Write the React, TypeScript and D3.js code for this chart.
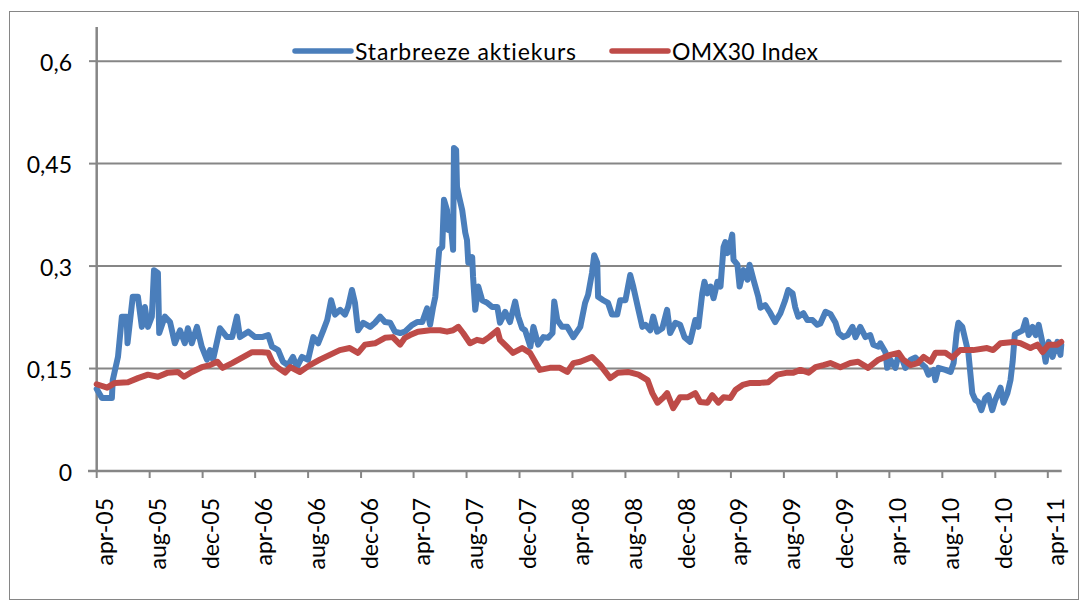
import * as d3 from "d3";

// Starbreeze share price (SEK) and OMX30 index (rescaled)
const starbreeze: [string, number][] = [
  ["2005-04-01", 0.12], ["2005-04-13", 0.107], ["2005-05-06", 0.107], ["2005-05-08", 0.133],
  ["2005-05-20", 0.167], ["2005-05-29", 0.226], ["2005-06-09", 0.226], ["2005-06-11", 0.187],
  ["2005-06-23", 0.255], ["2005-07-05", 0.255], ["2005-07-14", 0.211], ["2005-07-21", 0.24],
  ["2005-07-28", 0.211], ["2005-08-06", 0.226], ["2005-08-11", 0.294], ["2005-08-20", 0.29],
  ["2005-08-23", 0.202], ["2005-09-05", 0.226], ["2005-09-17", 0.218], ["2005-09-28", 0.187],
  ["2005-10-10", 0.206], ["2005-10-21", 0.187], ["2005-10-28", 0.209], ["2005-11-06", 0.187],
  ["2005-11-18", 0.211], ["2005-11-29", 0.182], ["2005-12-11", 0.163], ["2005-12-18", 0.177],
  ["2005-12-25", 0.163], ["2006-01-10", 0.209], ["2006-01-26", 0.196], ["2006-02-07", 0.196],
  ["2006-02-18", 0.226], ["2006-02-25", 0.196], ["2006-03-16", 0.204], ["2006-04-01", 0.196],
  ["2006-04-17", 0.196], ["2006-05-01", 0.199], ["2006-05-10", 0.182], ["2006-05-24", 0.177],
  ["2006-06-04", 0.16], ["2006-06-16", 0.155], ["2006-06-27", 0.167], ["2006-07-06", 0.152],
  ["2006-07-18", 0.167], ["2006-08-01", 0.163], ["2006-08-13", 0.196], ["2006-08-24", 0.187],
  ["2006-09-05", 0.206], ["2006-09-14", 0.221], ["2006-09-23", 0.25], ["2006-10-02", 0.229],
  ["2006-10-14", 0.236], ["2006-10-25", 0.229], ["2006-11-01", 0.24], ["2006-11-10", 0.265],
  ["2006-11-17", 0.246], ["2006-11-24", 0.206], ["2006-12-06", 0.217], ["2006-12-22", 0.211],
  ["2007-01-02", 0.217], ["2007-01-14", 0.226], ["2007-01-25", 0.218], ["2007-02-06", 0.217],
  ["2007-02-17", 0.204], ["2007-03-01", 0.202], ["2007-03-12", 0.204], ["2007-03-29", 0.214],
  ["2007-04-09", 0.218], ["2007-04-21", 0.218], ["2007-05-02", 0.238], ["2007-05-09", 0.214],
  ["2007-05-16", 0.24], ["2007-05-21", 0.255], ["2007-05-30", 0.324], ["2007-06-06", 0.328],
  ["2007-06-10", 0.397], ["2007-06-17", 0.382], ["2007-06-20", 0.353], ["2007-06-24", 0.372],
  ["2007-07-01", 0.324], ["2007-07-03", 0.473], ["2007-07-08", 0.47], ["2007-07-10", 0.416],
  ["2007-07-15", 0.401], ["2007-07-22", 0.382], ["2007-07-29", 0.349], ["2007-08-02", 0.338],
  ["2007-08-05", 0.305], ["2007-08-14", 0.313], ["2007-08-16", 0.284], ["2007-08-21", 0.236],
  ["2007-08-28", 0.27], ["2007-09-06", 0.25], ["2007-09-18", 0.246], ["2007-09-29", 0.24],
  ["2007-10-11", 0.24], ["2007-10-17", 0.217], ["2007-10-29", 0.233], ["2007-11-09", 0.218],
  ["2007-11-21", 0.248], ["2007-11-28", 0.226], ["2007-12-07", 0.209], ["2007-12-14", 0.206],
  ["2007-12-26", 0.182], ["2008-01-02", 0.211], ["2008-01-13", 0.185], ["2008-01-25", 0.196],
  ["2008-02-05", 0.195], ["2008-02-15", 0.202], ["2008-02-19", 0.248], ["2008-02-26", 0.221],
  ["2008-03-08", 0.211], ["2008-03-20", 0.211], ["2008-04-03", 0.196], ["2008-04-19", 0.211],
  ["2008-04-30", 0.246], ["2008-05-07", 0.258], ["2008-05-16", 0.29], ["2008-05-21", 0.316],
  ["2008-05-28", 0.305], ["2008-05-30", 0.255], ["2008-06-11", 0.25], ["2008-06-22", 0.246],
  ["2008-07-01", 0.229], ["2008-07-13", 0.229], ["2008-07-20", 0.25], ["2008-08-01", 0.25],
  ["2008-08-12", 0.287], ["2008-08-19", 0.27], ["2008-08-31", 0.236], ["2008-09-09", 0.211],
  ["2008-09-16", 0.214], ["2008-09-27", 0.206], ["2008-10-04", 0.226], ["2008-10-13", 0.204],
  ["2008-10-25", 0.209], ["2008-11-05", 0.236], ["2008-11-12", 0.202], ["2008-11-24", 0.217],
  ["2008-12-05", 0.214], ["2008-12-15", 0.196], ["2008-12-28", 0.189], ["2009-01-09", 0.221],
  ["2009-01-16", 0.211], ["2009-01-25", 0.26], ["2009-01-30", 0.277], ["2009-02-06", 0.26],
  ["2009-02-13", 0.27], ["2009-02-20", 0.253], ["2009-03-01", 0.277], ["2009-03-08", 0.27],
  ["2009-03-15", 0.328], ["2009-03-19", 0.335], ["2009-03-24", 0.319], ["2009-03-31", 0.334],
  ["2009-04-04", 0.346], ["2009-04-07", 0.309], ["2009-04-16", 0.302], ["2009-04-21", 0.27],
  ["2009-04-30", 0.294], ["2009-05-09", 0.28], ["2009-05-14", 0.302], ["2009-05-23", 0.28],
  ["2009-06-03", 0.255], ["2009-06-08", 0.239], ["2009-06-19", 0.243], ["2009-07-01", 0.231],
  ["2009-07-12", 0.218], ["2009-07-24", 0.231], ["2009-08-04", 0.25], ["2009-08-11", 0.265],
  ["2009-08-21", 0.26], ["2009-08-27", 0.24], ["2009-09-03", 0.226], ["2009-09-15", 0.231],
  ["2009-09-24", 0.221], ["2009-10-06", 0.221], ["2009-10-17", 0.214], ["2009-10-24", 0.216],
  ["2009-11-05", 0.233], ["2009-11-16", 0.23], ["2009-11-28", 0.217], ["2009-12-05", 0.202],
  ["2009-12-16", 0.196], ["2009-12-26", 0.199], ["2010-01-06", 0.211], ["2010-01-13", 0.196],
  ["2010-01-24", 0.211], ["2010-02-05", 0.196], ["2010-02-16", 0.199], ["2010-02-23", 0.185],
  ["2010-03-07", 0.182], ["2010-03-11", 0.187], ["2010-03-23", 0.174], ["2010-03-27", 0.151],
  ["2010-04-03", 0.163], ["2010-04-15", 0.151], ["2010-04-22", 0.17], ["2010-05-01", 0.163],
  ["2010-05-08", 0.151], ["2010-05-20", 0.163], ["2010-05-31", 0.166], ["2010-06-12", 0.158],
  ["2010-06-23", 0.152], ["2010-06-30", 0.141], ["2010-07-12", 0.148], ["2010-07-16", 0.133],
  ["2010-07-23", 0.151], ["2010-08-08", 0.148], ["2010-08-20", 0.145], ["2010-08-27", 0.158],
  ["2010-09-03", 0.202], ["2010-09-07", 0.217], ["2010-09-16", 0.211], ["2010-09-23", 0.192],
  ["2010-09-30", 0.173], ["2010-10-09", 0.114], ["2010-10-16", 0.104], ["2010-10-23", 0.101],
  ["2010-10-30", 0.089], ["2010-11-08", 0.107], ["2010-11-15", 0.111], ["2010-11-24", 0.089],
  ["2010-12-01", 0.104], ["2010-12-13", 0.122], ["2010-12-20", 0.1], ["2010-12-29", 0.114],
  ["2011-01-05", 0.133], ["2011-01-10", 0.16], ["2011-01-15", 0.2], ["2011-02-02", 0.206],
  ["2011-02-09", 0.221], ["2011-02-16", 0.199], ["2011-02-25", 0.211], ["2011-03-04", 0.199],
  ["2011-03-11", 0.214], ["2011-03-20", 0.187], ["2011-03-27", 0.16], ["2011-04-03", 0.189],
  ["2011-04-12", 0.167], ["2011-04-23", 0.189], ["2011-04-30", 0.17], ["2011-05-02", 0.185],
];

const omx30: [string, number][] = [
  ["2005-04-01", 0.127], ["2005-04-25", 0.122], ["2005-05-13", 0.129], ["2005-06-12", 0.13],
  ["2005-07-05", 0.136], ["2005-07-28", 0.141], ["2005-08-20", 0.138], ["2005-09-12", 0.144],
  ["2005-10-05", 0.145], ["2005-10-19", 0.138], ["2005-11-06", 0.145], ["2005-11-29", 0.152],
  ["2005-12-18", 0.155], ["2006-01-04", 0.16], ["2006-01-16", 0.151], ["2006-02-07", 0.158],
  ["2006-03-02", 0.166], ["2006-03-25", 0.174], ["2006-04-17", 0.174], ["2006-05-01", 0.173],
  ["2006-05-12", 0.158], ["2006-05-24", 0.151], ["2006-06-09", 0.144], ["2006-06-21", 0.152],
  ["2006-07-13", 0.145], ["2006-08-05", 0.155], ["2006-08-28", 0.163], ["2006-09-20", 0.17],
  ["2006-10-13", 0.177], ["2006-11-05", 0.18], ["2006-11-24", 0.173], ["2006-12-10", 0.185],
  ["2007-01-02", 0.187], ["2007-01-25", 0.195], ["2007-02-12", 0.196], ["2007-03-01", 0.185],
  ["2007-03-12", 0.195], ["2007-03-24", 0.199], ["2007-04-11", 0.204], ["2007-05-09", 0.206],
  ["2007-06-01", 0.206], ["2007-06-17", 0.204], ["2007-07-01", 0.206], ["2007-07-13", 0.211],
  ["2007-07-24", 0.202], ["2007-08-09", 0.187], ["2007-08-25", 0.192], ["2007-09-08", 0.19],
  ["2007-09-22", 0.196], ["2007-10-11", 0.206], ["2007-10-17", 0.192], ["2007-11-16", 0.173],
  ["2007-12-07", 0.18], ["2007-12-25", 0.173], ["2008-01-17", 0.148], ["2008-02-09", 0.151],
  ["2008-03-03", 0.151], ["2008-03-20", 0.145], ["2008-04-03", 0.158], ["2008-04-19", 0.16],
  ["2008-05-16", 0.167], ["2008-06-04", 0.155], ["2008-06-27", 0.136], ["2008-07-15", 0.144],
  ["2008-08-07", 0.145], ["2008-08-31", 0.141], ["2008-09-21", 0.133], ["2008-10-02", 0.114],
  ["2008-10-14", 0.1], ["2008-10-28", 0.108], ["2008-11-05", 0.114], ["2008-11-19", 0.092],
  ["2008-12-05", 0.108], ["2008-12-23", 0.108], ["2009-01-09", 0.114], ["2009-01-20", 0.101],
  ["2009-02-06", 0.1], ["2009-02-17", 0.111], ["2009-03-03", 0.1], ["2009-03-15", 0.108],
  ["2009-03-31", 0.107], ["2009-04-12", 0.119], ["2009-04-28", 0.126], ["2009-05-16", 0.129],
  ["2009-06-08", 0.129], ["2009-06-26", 0.13], ["2009-07-17", 0.141], ["2009-08-09", 0.144],
  ["2009-08-23", 0.144], ["2009-09-08", 0.148], ["2009-09-27", 0.144], ["2009-10-13", 0.152],
  ["2009-10-31", 0.155], ["2009-11-16", 0.158], ["2009-12-09", 0.152], ["2010-01-01", 0.158],
  ["2010-01-19", 0.16], ["2010-02-11", 0.151], ["2010-03-07", 0.163], ["2010-04-03", 0.17],
  ["2010-04-22", 0.173], ["2010-05-03", 0.163], ["2010-05-20", 0.155], ["2010-06-05", 0.158],
  ["2010-06-19", 0.167], ["2010-07-05", 0.16], ["2010-07-16", 0.173], ["2010-08-08", 0.173],
  ["2010-08-24", 0.166], ["2010-09-11", 0.177], ["2010-10-11", 0.177], ["2010-11-12", 0.18],
  ["2010-11-26", 0.177], ["2010-12-13", 0.187], ["2011-01-12", 0.189], ["2011-01-28", 0.187],
  ["2011-02-20", 0.18], ["2011-03-08", 0.185], ["2011-03-20", 0.174], ["2011-04-03", 0.185],
  ["2011-04-23", 0.185], ["2011-05-02", 0.189],
];

const seriesNames = ["Starbreeze aktiekurs", "OMX30 Index"];
const seriesColors = ["#4a7ebb", "#be4b48"];

const xTickLabels = [
  "apr-05", "aug-05", "dec-05", "apr-06", "aug-06", "dec-06", "apr-07", "aug-07", "dec-07",
  "apr-08", "aug-08", "dec-08", "apr-09", "aug-09", "dec-09", "apr-10", "aug-10", "dec-10", "apr-11",
];
const yTicks = [0, 0.15, 0.3, 0.45, 0.6];

const W = 1086;
const H = 610;
const left = 96.7;
const right = 1061.7;
const top = 27;
const bottom = 471;
const axisColor = "#868686";
const font = "Lato, 'Open Sans', sans-serif";
const fs = 23;

const months: Record<string, number> = {
  jan: 0, feb: 1, mar: 2, apr: 3, maj: 4, jun: 5, jul: 6, aug: 7, sep: 8, okt: 9, nov: 10, dec: 11,
};
const parse = d3.timeParse("%Y-%m-%d");
const tickDate = (s: string) => {
  const [m, yy] = s.split("-");
  return new Date(2000 + +yy, months[m], 1);
};

export default function App() {
  const x = d3.scaleTime().domain([new Date(2005, 3, 1), new Date(2011, 4, 3)]).range([left, right]);
  const y = d3.scaleLinear().domain([0, 0.65]).range([bottom, top]);

  const line = d3
    .line<[string, number]>()
    .x((d) => x(parse(d[0]) as Date))
    .y((d) => y(d[1]));

  const series = [starbreeze, omx30];

  // legend layout
  const legend = [
    { x0: 295, x1: 351, tx: 355, tl: 221 },
    { x0: 612, x1: 668, tx: 672, tl: 146 },
  ];

  return (
    <svg
      width={W}
      height={H}
      style={{
        position: "absolute",
        left: 0,
        top: 0,
        display: "block",
        background: "#fff",
        fontVariantLigatures: "none",
        fontFeatureSettings: '"liga" 0, "clig" 0',
      }}
      fontFamily={font}
    >
      <rect x={9.5} y={11.5} width={1069} height={588} fill="#fff" stroke={axisColor} strokeWidth={1} />

      {/* gridlines */}
      {yTicks.filter((t) => t > 0).map((t) => (
        <line key={t} x1={left} x2={right} y1={y(t)} y2={y(t)} stroke={axisColor} strokeWidth={2} />
      ))}

      {/* y axis */}
      <line x1={left} x2={left} y1={top} y2={bottom} stroke={axisColor} strokeWidth={2.5} />
      {yTicks.map((t) => (
        <g key={t}>
          <line x1={89} x2={left} y1={y(t)} y2={y(t)} stroke={axisColor} strokeWidth={2} />
          <text x={72} y={y(t) + 9.5} textAnchor="end" fontSize={fs} fill="#000">
            {String(t).replace(".", ",")}
          </text>
        </g>
      ))}

      {/* x axis */}
      <line x1={88} x2={right} y1={bottom} y2={bottom} stroke={axisColor} strokeWidth={2.5} />
      {xTickLabels.map((lab) => {
        const tx = x(tickDate(lab));
        return (
          <g key={lab}>
            <line x1={tx} x2={tx} y1={bottom} y2={bottom + 7} stroke={axisColor} strokeWidth={2} />
            <text
              transform={`translate(${tx + 16.5},498) rotate(-90)`}
              textAnchor="end"
              fontSize={fs}
              fill="#000"
            >
              {lab}
            </text>
          </g>
        );
      })}

      {/* series */}
      {series.map((s, i) => (
        <path
          key={i}
          d={line(s) ?? ""}
          fill="none"
          stroke={seriesColors[i]}
          strokeWidth={6}
          strokeLinejoin="round"
          strokeLinecap="round"
        />
      ))}

      {/* legend */}
      {legend.map((l, i) => (
        <g key={i}>
          <line x1={l.x0} x2={l.x1} y1={51} y2={51} stroke={seriesColors[i]} strokeWidth={5.5} strokeLinecap="round" />
          <text x={l.tx} y={60} fontSize={fs} fill="#000" textLength={l.tl} lengthAdjust="spacing">
            {seriesNames[i]}
          </text>
        </g>
      ))}
    </svg>
  );
}
